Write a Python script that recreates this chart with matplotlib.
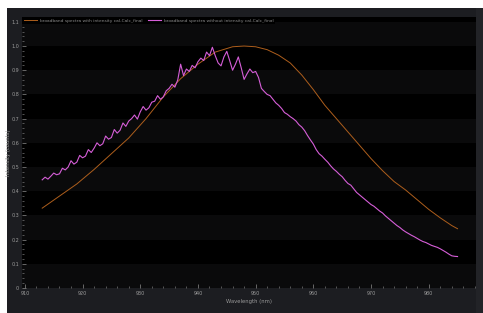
import numpy as np
import matplotlib
matplotlib.use("Agg")
import matplotlib.pyplot as plt
from matplotlib.patches import Rectangle
from matplotlib.ticker import MultipleLocator

# series with intensity calibration (smooth)
wl_cal = [913, 916, 919, 922, 925, 928, 931, 934, 937, 940, 943, 946, 948,
          950, 952, 954, 956, 958, 960, 962, 964, 966, 968, 970, 972, 974,
          976, 978, 980, 982, 984, 985]
int_cal = [0.33, 0.38, 0.43, 0.49, 0.555, 0.62, 0.70, 0.79, 0.865, 0.925,
           0.975, 0.997, 1.0, 0.997, 0.985, 0.962, 0.93, 0.88, 0.82, 0.755,
           0.70, 0.645, 0.59, 0.535, 0.485, 0.44, 0.405, 0.365, 0.325, 0.29,
           0.258, 0.245]

# series without intensity calibration (noisy), 0.5 nm steps from 913
wl_raw_start = 913.0
wl_raw_step = 0.5
int_raw = [
    0.447, 0.458, 0.450, 0.462, 0.475, 0.468, 0.472, 0.495, 0.488, 0.500,
    0.526, 0.512, 0.520, 0.548, 0.538, 0.545, 0.572, 0.560, 0.578, 0.600,
    0.588, 0.596, 0.628, 0.615, 0.622, 0.655, 0.640, 0.652, 0.682, 0.668,
    0.690, 0.700, 0.715, 0.698, 0.728, 0.750, 0.735, 0.745, 0.768, 0.772,
    0.795, 0.780, 0.790, 0.815, 0.825, 0.842, 0.830, 0.860, 0.925, 0.878,
    0.905, 0.895, 0.920, 0.910, 0.935, 0.950, 0.940, 0.975, 0.960, 0.995,
    0.960, 0.930, 0.918, 0.955, 0.978, 0.940, 0.900, 0.925, 0.955, 0.910,
    0.862, 0.885, 0.905, 0.890, 0.895, 0.870, 0.825, 0.812, 0.800, 0.795,
    0.780, 0.765, 0.755, 0.742, 0.725, 0.718, 0.708, 0.700, 0.690, 0.675,
    0.665, 0.650, 0.630, 0.612, 0.595, 0.572, 0.555, 0.545, 0.532, 0.520,
    0.505, 0.492, 0.482, 0.470, 0.460, 0.445, 0.432, 0.425, 0.410, 0.395,
    0.385, 0.375, 0.365, 0.355, 0.345, 0.338, 0.328, 0.318, 0.310, 0.298,
    0.288, 0.278, 0.268, 0.258, 0.250, 0.240, 0.232, 0.225, 0.218, 0.212,
    0.205, 0.198, 0.192, 0.188, 0.182, 0.176, 0.172, 0.168, 0.162, 0.155,
    0.148, 0.140, 0.133, 0.131, 0.130]
wl_raw = wl_raw_start + wl_raw_step * np.arange(len(int_raw))

label_cal = "broadband spectra with intensity cal-Calc_final"
label_raw = "broadband spectra without intensity cal-Calc_final"

fig = plt.figure(figsize=(4.83, 3.13), dpi=100, facecolor="white")

# dark panel behind everything (white strip at top/left)
fig.patches.append(Rectangle((7 / 483, 0), 1, 1 - 8 / 313, transform=fig.transFigure,
                             facecolor="#1c1d21", edgecolor="none", zorder=-2))
fig.patches.append(Rectangle((476 / 483, 0), 1, 1 - 8 / 313, transform=fig.transFigure,
                             facecolor="#222327", edgecolor="none", zorder=-1))

ax = fig.add_axes([22 / 483, 25 / 313, 454 / 483, 271 / 313])
ax.set_facecolor("black")
ax.set_xlim(909.5, 988.2)
ax.set_ylim(0, 1.12)

# alternating bands
for i in range(0, 11, 2):
    ax.axhspan(i * 0.1, (i + 1) * 0.1, color="#0a0a0b", lw=0, zorder=0)

ax.plot(wl_cal, int_cal, color="#ad5e1c", lw=0.7, label=label_cal)
ax.plot(wl_raw, int_raw, color="#d65ed8", lw=0.8, label=label_raw)

ax.xaxis.set_major_locator(MultipleLocator(10))
ax.xaxis.set_minor_locator(MultipleLocator(2))
ax.yaxis.set_major_locator(MultipleLocator(0.1))
ax.yaxis.set_minor_locator(MultipleLocator(0.02))
ax.yaxis.set_major_formatter(plt.FuncFormatter(lambda v, p: "0" if v == 0 else "%.1f" % v))
ax.tick_params(which="both", direction="in", colors="#777777", labelcolor="#9a9a9a",
               labelsize=3.5, pad=2)
ax.tick_params(which="major", length=3, width=0.6)
ax.tick_params(which="minor", length=1.5, width=0.5)
for s in ax.spines.values():
    s.set_visible(False)

ax.set_xlabel("Wavelength (nm)", fontsize=3.8, color="#9a9a9a", labelpad=2)
ax.set_ylabel("Intensity (counts)", fontsize=3.8, color="#9a9a9a", labelpad=0)

leg = ax.legend(loc="upper left", ncol=2, fontsize=3.2, frameon=True, facecolor="black",
                edgecolor="none", framealpha=1, borderpad=0.3, handlelength=3,
                columnspacing=1.2, handletextpad=0.6, borderaxespad=0.05)
leg.get_frame().set_boxstyle("square", pad=0)
for t in leg.get_texts():
    t.set_color("#8a8a8a")

fig.savefig("out.png", dpi=100, facecolor=fig.get_facecolor())
